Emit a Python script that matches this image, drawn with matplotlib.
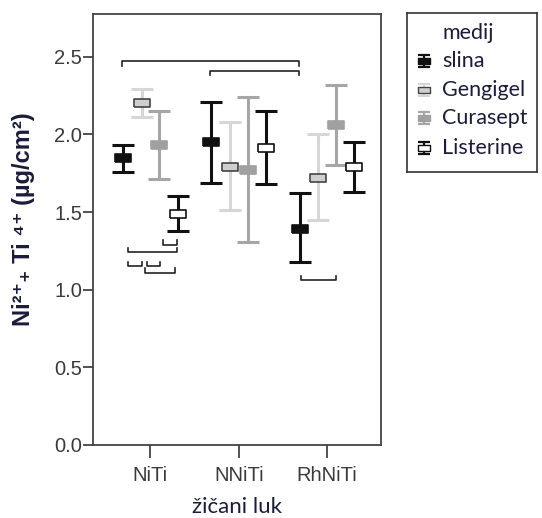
import numpy as np
import matplotlib
matplotlib.use('Agg')
import matplotlib.pyplot as plt

plt.rcParams['font.family'] = ['Liberation Sans', 'DejaVu Sans']

# categories
wires = ['NiTi', 'NNiTi', 'RhNiTi']
media = ['slina', 'Gengigel', 'Curasept', 'Listerine']

# mean and error bar limits, order NiTi, NNiTi, RhNiTi
mean_slina = [1.85, 1.95, 1.39]
low_slina = [1.76, 1.69, 1.18]
high_slina = [1.93, 2.21, 1.62]

mean_gengigel = [2.20, 1.79, 1.72]
low_gengigel = [2.11, 1.51, 1.45]
high_gengigel = [2.29, 2.08, 2.00]

mean_curasept = [1.93, 1.77, 2.06]
low_curasept = [1.71, 1.31, 1.80]
high_curasept = [2.15, 2.24, 2.32]

mean_listerine = [1.49, 1.91, 1.79]
low_listerine = [1.38, 1.68, 1.63]
high_listerine = [1.60, 2.15, 1.95]

# significance brackets (x in category units, y level, tick direction)
sig_x0 = [0.68, 1.68, 1.14, 0.75, 0.75, 0.96, 0.94, 2.70]
sig_x1 = [2.68, 2.68, 1.30, 1.30, 0.91, 1.11, 1.28, 3.10]
sig_y = [2.47, 2.41, 1.29, 1.24, 1.15, 1.15, 1.11, 1.06]
sig_dir = [-1, -1, 1, 1, 1, 1, 1, 1]

means = [mean_slina, mean_gengigel, mean_curasept, mean_listerine]
lows = [low_slina, low_gengigel, low_curasept, low_listerine]
highs = [high_slina, high_gengigel, high_curasept, high_listerine]

offsets = [-0.31, -0.10, 0.10, 0.31]
bar_colors = ['#111111', '#d6d6d6', '#a6a6a6', '#111111']
face_colors = ['#111111', '#cfcfcf', '#a0a0a0', '#ffffff']
edge_colors = ['#111111', '#444444', '#a0a0a0', '#111111']

rect = [(-1, -0.5), (1, -0.5), (1, 0.5), (-1, 0.5), (-1, -0.5)]

text_dark = '#1c1c3a'

fig = plt.figure(figsize=(5.42, 5.18), dpi=100)
ax = fig.add_axes([93/542, 1 - 445/518, 288/542, 431/518])

x = np.arange(1, len(wires) + 1)
for i, name in enumerate(media):
    m = np.array(means[i])
    lo = np.array(lows[i])
    hi = np.array(highs[i])
    xs = x + offsets[i]
    ax.errorbar(xs, m, yerr=[m - lo, hi - m], fmt='none', ecolor=bar_colors[i],
                elinewidth=2.2, capsize=8, capthick=2.2, zorder=2)
    ax.plot(xs, m, linestyle='none', marker=rect, markersize=12,
            markerfacecolor=face_colors[i], markeredgecolor=edge_colors[i],
            markeredgewidth=1.2, zorder=3)

# brackets
tick_len = 0.028
for x0, x1, y, d in zip(sig_x0, sig_x1, sig_y, sig_dir):
    ax.plot([x0, x0, x1, x1], [y + d * tick_len, y, y, y + d * tick_len],
            color='#222222', linewidth=1.2, zorder=4)

ax.set_xlim(0.35, 3.61)
ax.set_ylim(0, 2.775)
ax.set_xticks(x)
ax.set_xticklabels(wires)
ax.set_yticks([0.0, 0.5, 1.0, 1.5, 2.0, 2.5])
ax.set_yticklabels(['0.0', '0.5', '1.0', '1.5', '2.0', '2.5'])
for s in ax.spines.values():
    s.set_color('#444444')
    s.set_linewidth(1.3)
ax.tick_params(axis='y', length=7, width=1.3, color='#444444', pad=1,
               labelsize=14.5, labelcolor='#3a3a3a')
ax.tick_params(axis='x', length=9, width=1.3, color='#444444', pad=6,
               labelsize=14.5, labelcolor='#3a3a3a')

ax.set_xlabel('žičani luk', fontsize=16, family='Lato', color=text_dark, labelpad=9)
ax.set_ylabel('Ni²⁺₊ Ti ⁴⁺ (µg/cm²)', fontsize=17, fontweight='bold',
              color=text_dark)
ax.yaxis.set_label_coords(-0.2, 0.525)

# legend box drawn by hand
lax = fig.add_axes([407/542, 1 - 172/518, 130/542, 159/518])
lax.set_xlim(0, 130)
lax.set_ylim(159, 0)
lax.set_xticks([])
lax.set_yticks([])
for s in lax.spines.values():
    s.set_color('#333333')
    s.set_linewidth(1.2)
lax.text(35, 20, 'medij', fontsize=15.5, family='Lato', color=text_dark, va='center')
leg_y = [48, 77, 105, 135]
for i, name in enumerate(media):
    lax.errorbar([17], [leg_y[i]], yerr=[[6], [6]], fmt='none', ecolor=bar_colors[i],
                 elinewidth=1.6, capsize=4, capthick=1.6)
    lax.plot([17], [leg_y[i]], linestyle='none', marker=rect, markersize=8,
             markerfacecolor=face_colors[i], markeredgecolor=edge_colors[i],
             markeredgewidth=1.0)
    lax.text(35, leg_y[i], name, fontsize=15.5, family='Lato', color=text_dark, va='center')

fig.savefig('out.png', dpi=100)
